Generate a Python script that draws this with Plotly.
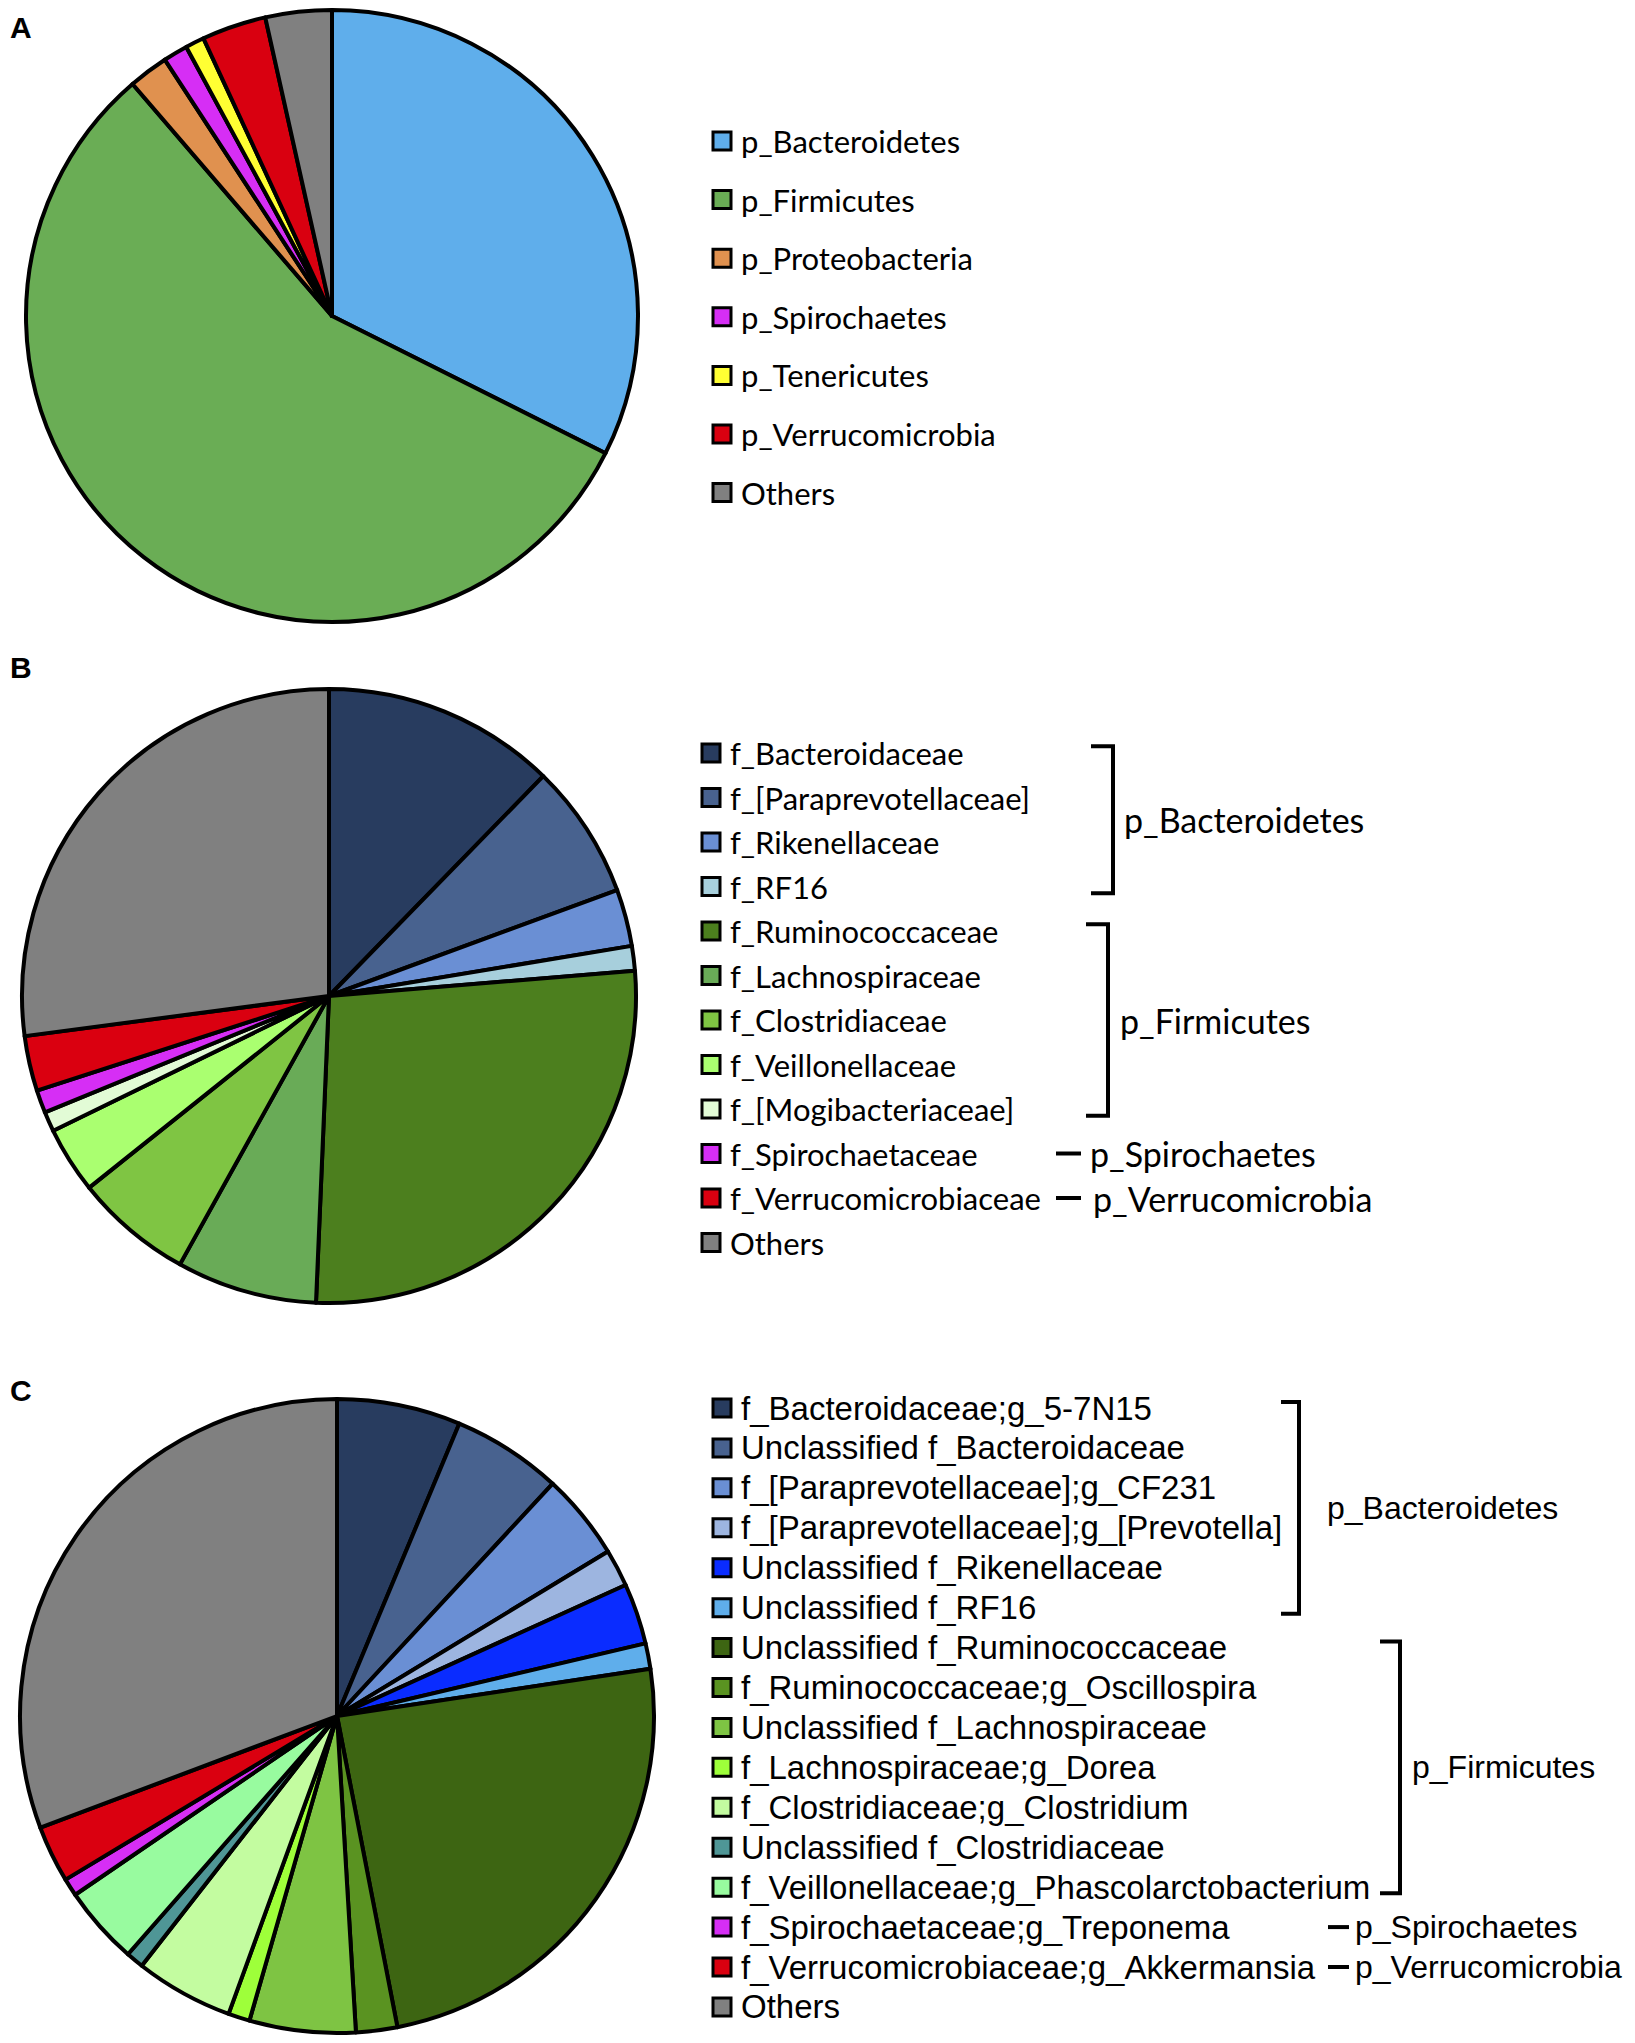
import plotly.graph_objects as go

W, H = 1635, 2043
OFF = 8  # page body margin: figure starts 8px in from the window corner
FW, FH = W - OFF, H - OFF

# ---- panel A: phylum level ----
a_labels = ['p_Bacteroidetes', 'p_Firmicutes', 'p_Proteobacteria', 'p_Spirochaetes',
            'p_Tenericutes', 'p_Verrucomicrobia', 'Others']
a_values = [32.4, 56.3, 2.1, 1.3, 1.0, 3.4, 3.5]
a_colors = ['#5FAEEB', '#6AAD55', '#E0914F', '#D62EF5', '#FFFF33', '#D90010', '#808080']

# ---- panel B: family level ----
b_labels = ['f_Bacteroidaceae', 'f_[Paraprevotellaceae]', 'f_Rikenellaceae', 'f_RF16',
            'f_Ruminococcaceae', 'f_Lachnospiraceae', 'f_Clostridiaceae', 'f_Veillonellaceae',
            'f_[Mogibacteriaceae]', 'f_Spirochaetaceae', 'f_Verrucomicrobiaceae', 'Others']
b_values = [12.3, 7.1, 3.0, 1.3, 27.0, 7.4, 6.2, 3.5, 1.05, 1.2, 2.9, 27.1]
b_colors = ['#283C5F', '#48628F', '#6A8FD4', '#A7CFDC', '#4C7F1E', '#69AB57', '#7FC543',
            '#AAFF70', '#E2FBD6', '#D62EF5', '#DA0010', '#808080']

# ---- panel C: genus level ----
c_labels = ['f_Bacteroidaceae;g_5-7N15', 'Unclassified f_Bacteroidaceae',
            'f_[Paraprevotellaceae];g_CF231', 'f_[Paraprevotellaceae];g_[Prevotella]',
            'Unclassified f_Rikenellaceae', 'Unclassified f_RF16',
            'Unclassified f_Ruminococcaceae', 'f_Ruminococcaceae;g_Oscillospira',
            'Unclassified f_Lachnospiraceae', 'f_Lachnospiraceae;g_Dorea',
            'f_Clostridiaceae;g_Clostridium', 'Unclassified f_Clostridiaceae',
            'f_Veillonellaceae;g_Phascolarctobacterium', 'f_Spirochaetaceae;g_Treponema',
            'f_Verrucomicrobiaceae;g_Akkermansia', 'Others']
c_values = [6.3, 5.6, 4.4, 1.9, 3.1, 1.3, 24.3, 2.1, 5.4, 1.1, 5.0, 0.9, 4.0, 0.9, 2.9, 30.7]
c_colors = ['#283C5F', '#48628F', '#6A8FD4', '#9DB5E0', '#0A2CFF', '#5FAEEB', '#3D6512',
            '#5A9321', '#7EC443', '#9EFF3A', '#C3FCA0', '#4F9696', '#98FB9F', '#D62EF5',
            '#DA0010', '#808080']

# phylum groups shown next to legends B and C
b_groups = [('p_Bacteroidetes', 0, 3), ('p_Firmicutes', 4, 8),
            ('p_Spirochaetes', 9, 9), ('p_Verrucomicrobia', 10, 10)]
c_groups = [('p_Bacteroidetes', 0, 5), ('p_Firmicutes', 6, 12),
            ('p_Spirochaetes', 13, 13), ('p_Verrucomicrobia', 14, 14)]


def pie_domain(cx, cy, r):
    return dict(x=[(cx - r - OFF) / FW, (cx + r - OFF) / FW],
                y=[1 - (cy + r - OFF) / FH, 1 - (cy - r - OFF) / FH])


fig = go.Figure()
for labels, values, colors, (cx, cy, r) in [
        (a_labels, a_values, a_colors, (332, 316, 306)),
        (b_labels, b_values, b_colors, (329, 996, 307)),
        (c_labels, c_values, c_colors, (337, 1716, 317))]:
    fig.add_trace(go.Pie(
        labels=labels, values=values, sort=False, direction='clockwise', rotation=0,
        marker=dict(colors=colors, line=dict(color='black', width=4)),
        textinfo='none', showlegend=False, domain=pie_domain(cx, cy, r),
    ))

shapes = []
annotations = []


def add_legend(labels, colors, sq_x, txt_x, y0, dy, sq, font):
    for i, (lab, col) in enumerate(zip(labels, colors)):
        y = y0 + dy * i
        shapes.append(dict(type='rect', x0=sq_x, x1=sq_x + sq, y0=y - sq / 2, y1=y + sq / 2,
                           xref='x', yref='y', fillcolor=col, line=dict(color='black', width=3)))
        annotations.append(dict(x=txt_x, y=y, text=lab, xref='x', yref='y', showarrow=False,
                                xanchor='left', yanchor='middle', font=font))


def add_groups(groups, y0, dy, brackets, dashes, font):
    for (name, i0, i1) in groups:
        if i0 != i1:
            bx, tick, lx = brackets[name]
            ya, yb = y0 + dy * i0 - dy * 0.15, y0 + dy * i1 + dy * 0.15
            shapes.append(dict(type='path', xref='x', yref='y',
                               path=f'M {bx - tick},{ya} L {bx},{ya} L {bx},{yb} L {bx - tick},{yb}',
                               line=dict(color='black', width=4)))
            annotations.append(dict(x=lx, y=(ya + yb) / 2, text=name, xref='x', yref='y',
                                    showarrow=False, xanchor='left', yanchor='middle', font=font))
        else:
            dx0, dx1, lx = dashes[name]
            y = y0 + dy * i0
            shapes.append(dict(type='line', x0=dx0, x1=dx1, y0=y, y1=y, xref='x', yref='y',
                               line=dict(color='black', width=4)))
            annotations.append(dict(x=lx, y=y, text=name, xref='x', yref='y', showarrow=False,
                                    xanchor='left', yanchor='middle', font=font))


calib = 'Lato, Carlito, Open Sans, sans-serif'
narrow = 'Liberation Sans Narrow, Arial Narrow, Liberation Sans, sans-serif'

add_legend(a_labels, a_colors, 713, 739, 141, 58.6, 18, dict(family=calib, size=31, color='black'))
add_legend(b_labels, b_colors, 702, 728, 753, 44.5, 18, dict(family=calib, size=31, color='black'))
add_legend(c_labels, c_colors, 713, 739, 1408, 39.93, 18, dict(family=narrow, size=33, color='black'))

add_groups(b_groups, 753, 44.5,
           {'p_Bacteroidetes': (1113, 22, 1122), 'p_Firmicutes': (1108, 22, 1118)},
           {'p_Spirochaetes': (1056, 1081, 1088), 'p_Verrucomicrobia': (1056, 1081, 1091)},
           dict(family=calib, size=34, color='black'))
add_groups(c_groups, 1408, 39.93,
           {'p_Bacteroidetes': (1299, 18, 1325), 'p_Firmicutes': (1400, 20, 1410)},
           {'p_Spirochaetes': (1328, 1349, 1353), 'p_Verrucomicrobia': (1328, 1349, 1353)},
           dict(family=narrow, size=32, color='black'))

# panel letters, placed in paper space at the left edge of the figure
for lab, y in [('A', 28), ('B', 667), ('C', 1390)]:
    annotations.append(dict(x=0, y=1 - (y - OFF) / FH, text=f'<b>{lab}</b>', xref='paper',
                            yref='paper', showarrow=False, xanchor='left', yanchor='middle',
                            font=dict(family='Liberation Sans, Arial, sans-serif', size=30,
                                      color='black')))

fig.update_layout(
    width=FW, height=FH, margin=dict(l=0, r=0, t=0, b=0),
    paper_bgcolor='white', plot_bgcolor='white',
    xaxis=dict(range=[OFF, W], visible=False, fixedrange=True),
    yaxis=dict(range=[H, OFF], visible=False, fixedrange=True),
    shapes=shapes, annotations=annotations,
)

fig.write_html("out.html")
